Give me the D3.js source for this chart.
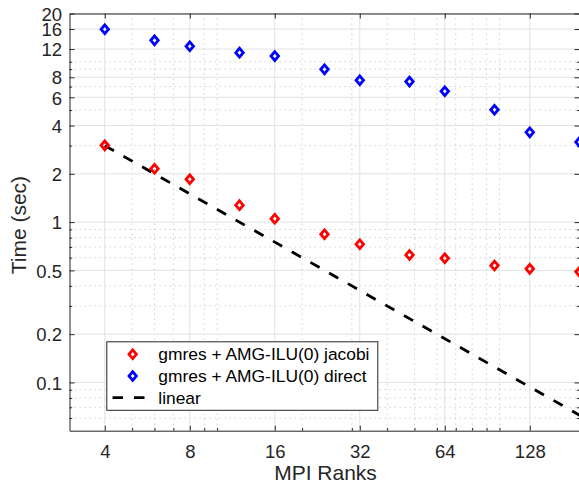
<!DOCTYPE html>
<html><head><meta charset="utf-8">
<script src="https://cdn.jsdelivr.net/npm/d3@7"></script>
<style>
html,body{margin:0;padding:0;background:#fff;}
svg{display:block;font-family:"Liberation Sans",Arial,Helvetica,sans-serif;}
</style></head>
<body>
<svg id="c" width="579" height="484"></svg>
<script>
const ranks = [4, 6, 8, 12, 16, 24, 32, 48, 64, 96, 128, 192];
const jacobiTime = [3.01, 2.15, 1.85, 1.275, 1.05, 0.84, 0.727, 0.624, 0.595, 0.536, 0.511, 0.49];
const directTime = [15.95, 13.6, 12.5, 11.4, 10.85, 8.97, 7.67, 7.52, 6.55, 5.02, 3.63, 3.16];
const linearX = [4, 192];
const linearY = [3.0, 0.0625];
const xTicks = [4, 8, 16, 32, 64, 128];
const yTicks = [0.1, 0.2, 0.5, 1, 2, 4, 6, 8, 12, 16, 20];
const xMinor = [5, 6, 7, 9, 10, 20, 30, 40, 50, 60, 70, 80, 90, 100];
const yMinor = [0.06, 0.07, 0.08, 0.09, 0.3, 0.4, 0.6, 0.7, 0.8, 0.9, 3, 5, 7, 9, 10];
const legendLabels = ["gmres + AMG-ILU(0) jacobi", "gmres + AMG-ILU(0) direct", "linear"];
const xLabel = "MPI Ranks", yLabel = "Time (sec)";

const L = 69.5, R = 579.5, T = 13.5, B = 430.7;
const x = d3.scaleLog().domain([3, 192]).range([L, R]);
const y = d3.scaleLog().domain([0.05, 20]).range([B, T]);
const svg = d3.select("#c");
const axisCol = "#262626";

// grids
const g = svg.append("g");
g.selectAll(".xmn").data(xMinor).enter().append("line")
  .attr("x1", d => x(d)).attr("x2", d => x(d)).attr("y1", T).attr("y2", B)
  .attr("stroke", "#c4c4c4").attr("stroke-width", 0.8).attr("stroke-dasharray", "1.5,3.5");
g.selectAll(".ymn").data(yMinor).enter().append("line")
  .attr("y1", d => y(d)).attr("y2", d => y(d)).attr("x1", L).attr("x2", R)
  .attr("stroke", "#c4c4c4").attr("stroke-width", 0.8).attr("stroke-dasharray", "1.5,3.5");
g.selectAll(".xmj").data(xTicks).enter().append("line")
  .attr("x1", d => x(d)).attr("x2", d => x(d)).attr("y1", T).attr("y2", B)
  .attr("stroke", "#e2e2e2").attr("stroke-width", 1);
g.selectAll(".ymj").data(yTicks).enter().append("line")
  .attr("y1", d => y(d)).attr("y2", d => y(d)).attr("x1", L).attr("x2", R)
  .attr("stroke", "#e2e2e2").attr("stroke-width", 1);

// axes using d3 axis with inward ticks
const fmt = d => String(d);
const xAx = svg.append("g").attr("transform", `translate(0,${B})`)
  .call(d3.axisBottom(x).tickValues(xTicks).tickFormat(fmt).tickSizeInner(-5).tickSizeOuter(0).tickPadding(13));
const xAxTop = svg.append("g").attr("transform", `translate(0,${T})`)
  .call(d3.axisTop(x).tickValues(xTicks).tickFormat("").tickSizeInner(-5).tickSizeOuter(0));
const yAx = svg.append("g").attr("transform", `translate(${L},0)`)
  .call(d3.axisLeft(y).tickValues(yTicks).tickFormat(fmt).tickSizeInner(-5).tickSizeOuter(0).tickPadding(13));
const yAxR = svg.append("g").attr("transform", `translate(${R},0)`)
  .call(d3.axisRight(y).tickValues(yTicks).tickFormat("").tickSizeInner(-5).tickSizeOuter(0));
// minor ticks
svg.append("g").attr("transform", `translate(0,${B})`)
  .call(d3.axisBottom(x).tickValues(xMinor).tickFormat("").tickSizeInner(-2.7).tickSizeOuter(0))
  .select(".domain").remove();
svg.append("g").attr("transform", `translate(${L},0)`)
  .call(d3.axisLeft(y).tickValues(yMinor).tickFormat("").tickSizeInner(-2.7).tickSizeOuter(0))
  .select(".domain").remove();
svg.append("g").attr("transform", `translate(${R},0)`)
  .call(d3.axisRight(y).tickValues(yMinor).tickFormat("").tickSizeInner(-2.7).tickSizeOuter(0))
  .select(".domain").remove();

svg.selectAll(".domain").attr("stroke", axisCol).attr("stroke-width", 1);
svg.selectAll(".tick line").attr("stroke", axisCol).attr("stroke-width", 1);
svg.selectAll(".tick text").attr("fill", axisCol).attr("font-size", "18.5px")
  .attr("font-family", "'Liberation Sans',Arial,Helvetica,sans-serif");
xAx.selectAll(".tick text").attr("dy", null).attr("y", 27);
yAx.selectAll(".tick text").attr("dy", "0.36em").attr("x", -7.5);

// axis labels
svg.append("text").attr("x", (L + R) / 2 + 1).attr("y", 479.5).attr("text-anchor", "middle")
  .attr("font-size", "21px").attr("fill", axisCol).text(xLabel);
svg.append("text").attr("transform", `translate(26,${(T + B) / 2 + 3}) rotate(-90)`)
  .attr("text-anchor", "middle").attr("font-size", "21px").attr("fill", axisCol).text(yLabel);

// linear dashed line
const line = d3.line().x(d => x(d[0])).y(d => y(d[1]));
svg.append("path").datum(d3.zip(linearX, linearY)).attr("d", line)
  .attr("fill", "none").attr("stroke", "#000").attr("stroke-width", 2.8)
  .attr("stroke-dasharray", "10.5,11");

// diamond markers
const dia = (cx, cy, r) => `M${cx},${cy - r}L${cx + r * 0.85},${cy}L${cx},${cy + r}L${cx - r * 0.85},${cy}Z`;
function markers(vals, col) {
  svg.append("g").selectAll("path").data(d3.zip(ranks, vals)).enter().append("path")
    .attr("d", d => dia(x(d[0]), y(d[1]), 4.4))
    .attr("fill", "none").attr("stroke", col).attr("stroke-width", 2.8);
}
markers(jacobiTime, "#ff0000");
markers(directTime, "#0000ff");

// legend
const lg = svg.append("g");
lg.append("rect").attr("x", 106.8).attr("y", 341.8).attr("width", 271).attr("height", 68.5)
  .attr("fill", "#fff").attr("stroke", axisCol).attr("stroke-width", 1);
const rows = [354.3, 376, 397.7];
lg.append("path").attr("d", dia(132.7, rows[0], 4.4)).attr("fill", "none").attr("stroke", "#ff0000").attr("stroke-width", 2.8);
lg.append("path").attr("d", dia(132.7, rows[1], 4.4)).attr("fill", "none").attr("stroke", "#0000ff").attr("stroke-width", 2.8);
lg.append("line").attr("x1", 112.5).attr("x2", 145).attr("y1", rows[2]).attr("y2", rows[2])
  .attr("stroke", "#000").attr("stroke-width", 2.8).attr("stroke-dasharray", "10.5,11");
legendLabels.forEach((t, i) => {
  lg.append("text").attr("x", 158.3).attr("y", rows[i]).attr("dy", "0.35em")
    .attr("font-size", "17.4px").attr("fill", "#000").text(t);
});
</script>
</body></html>
